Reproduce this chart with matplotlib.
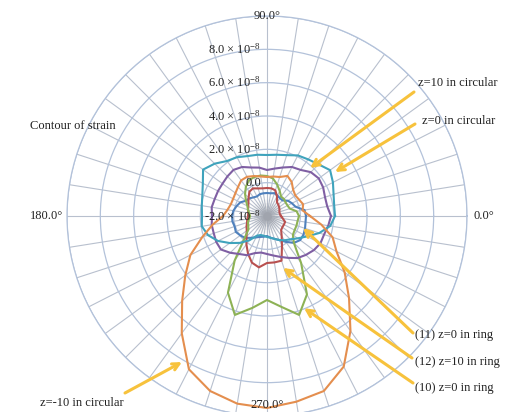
import numpy as np
import matplotlib
matplotlib.use("Agg")
import matplotlib.pyplot as plt
import matplotlib.transforms as mtransforms

plt.rcParams['font.family'] = ['Liberation Serif', 'DejaVu Serif']
plt.rcParams['mathtext.fontset'] = 'custom'
plt.rcParams['mathtext.rm'] = 'Liberation Serif'
plt.rcParams['mathtext.it'] = 'Liberation Serif:italic'

# direction of each spoke, degrees (counter-clockwise from 0.0°)
angles_deg = np.arange(0, 360, 9)

# strain around the section, in units of 1e-8
ring_10_z0 = [-0.08, -0.20, -0.56, -0.62, -0.62, -0.56, -0.56, -0.32, -0.02, 0.28,
              0.40, 0.46, 0.46, 0.40, 0.16, -0.14, -0.44, -0.68, -0.80, -0.92,
              -0.98, -0.92, -0.80, -0.74, -0.62, -0.08, 1.30, 3.16, 4.24, 3.58,
              3.04, 3.52, 4.24, 3.28, 1.48, 0.28, -0.08, -0.14, -0.14, -0.14]
ring_11_z0 = [0.34, 0.28, -0.20, -0.32, -0.44, -0.68, -0.68, -0.62, -0.56, -0.62,
              -0.62, -0.62, -0.62, -0.68, -0.62, -0.50, -0.44, -0.20, -0.08, 0.04,
              0.10, 0.10, 0.04, 0.10, -0.02, -0.14, -0.38, -0.56, -0.68, -0.74,
              -0.80, -0.68, -0.56, -0.38, -0.08, 0.28, 0.46, 0.46, 0.40, 0.34]
ring_12_z10 = [-1.16, -1.22, -1.22, -1.16, -1.10, -1.04, -0.98, -0.68, -0.38, -0.32,
               -0.32, -0.32, -0.26, -0.14, -0.20, -0.44, -0.62, -0.74, -0.80, -0.86,
               -0.86, -0.80, -0.74, -0.62, -0.50, -0.26, 0.10, 0.52, 0.94, 1.12,
               0.82, 0.82, 0.82, -0.02, -0.50, -0.80, -0.86, -0.86, -0.86, -1.04]
circ_z10 = [1.84, 1.66, 1.66, 1.78, 1.84, 1.72, 1.42, 1.30, 1.06, 0.88,
            0.76, 0.94, 1.06, 1.30, 1.42, 1.36, 1.30, 1.30, 1.30, 1.36,
            1.30, 1.36, 1.36, 1.42, 1.42, 1.12, 0.82, 0.64, 0.34, 0.22,
            0.28, 0.40, 0.58, 0.82, 1.12, 1.30, 1.48, 1.60, 1.60, 1.72]
circ_z0 = [2.08, 2.08, 2.20, 2.44, 2.68, 2.38, 2.20, 2.08, 1.84, 1.72,
           1.66, 1.72, 1.78, 1.96, 2.08, 2.44, 2.74, 2.32, 2.08, 1.96,
           1.90, 1.96, 1.72, 1.30, 0.76, 0.28, -0.20, -0.68, -0.80, -0.80,
           -0.74, -0.68, -0.56, -0.38, -0.20, -0.02, 0.28, 0.70, 1.30, 1.84]
circ_zm10 = [0.58, 0.16, 0.28, 0.16, 0.10, 0.22, 0.52, 0.70, 0.46, 0.40,
             0.34, 0.40, 0.52, 0.64, 0.64, 0.46, 0.34, 0.28, 0.28, 0.40,
             0.64, 1.30, 2.08, 3.16, 4.06, 5.20, 6.70, 8.32, 9.04, 9.40,
             9.52, 9.28, 9.04, 8.14, 6.52, 4.96, 3.76, 2.68, 2.14, 1.30]

radial_ticks = [-2, 0, 2, 4, 6, 8, 10]
radial_labels = [r"-2.0 $\times$ 10$^{-8}$", "0.0", r"2.0 $\times$ 10$^{-8}$",
                 r"4.0 $\times$ 10$^{-8}$", r"6.0 $\times$ 10$^{-8}$", r"8.0 $\times$ 10$^{-8}$"]

series = [
    (ring_11_z0, "#4F81BD"),
    (ring_12_z10, "#B8504F"),
    (ring_10_z0, "#8DB255"),
    (circ_z10, "#7F5FA3"),
    (circ_z0, "#3FA3BC"),
    (circ_zm10, "#E48E4E"),
]

txt_col = "#222222"
W, H = 516, 412
fig = plt.figure(figsize=(W / 100, H / 100), dpi=100)
cx, cy, R = 267, 216, 200
ax = fig.add_axes([(cx - R) / W, (H - cy - R) / H, 2 * R / W, 2 * R / H],
                  projection='polar')
ax.set_ylim(-2, 10)

grid_col = "#B3C2DA"
ax.set_xticks(np.deg2rad(angles_deg))
ax.set_xticklabels([])
ax.set_yticks(radial_ticks)
ax.set_yticklabels([])
ax.xaxis.grid(True, color="#B8C0CE", lw=0.8)
ax.yaxis.grid(True, color=grid_col, lw=0.9)
ax.spines['polar'].set_color(grid_col)
ax.spines['polar'].set_linewidth(0.9)
ax.tick_params(length=0)

# soft grey haze where the spokes converge
for s, a in [(600, 0.05), (380, 0.07), (220, 0.09), (110, 0.12), (40, 0.15)]:
    ax.scatter([0], [-2], s=s, color="#808080", alpha=a, lw=0, zorder=2)

theta = np.deg2rad(np.append(angles_deg, angles_deg[0]))
for vals, col in series:
    r = np.append(vals, vals[0])
    ax.plot(theta, r, color=col, lw=1.5, zorder=3)

# radial axis labels along the vertical spoke
left_shift = mtransforms.ScaledTranslation(-6 / 100, 0, fig.dpi_scale_trans)
for v, lab in zip(radial_ticks, radial_labels):
    ax.text(np.pi / 2, v, lab, ha='right', va='center', fontsize=9,
            color=txt_col, transform=ax.transData + left_shift, zorder=4)

# direction labels
ax.text(np.pi / 2, 10, "90.0°", ha='center', va='center', fontsize=9, color=txt_col)
ax.text(3 * np.pi / 2, 9.35, "270.0°", ha='center', va='center', fontsize=9, color=txt_col)
ax.text(np.pi, 10, "180.0°", ha='right', va='center', fontsize=9, color=txt_col,
        transform=ax.transData + mtransforms.ScaledTranslation(-4 / 100, 0, fig.dpi_scale_trans))
ax.text(0, 10, "0.0°", ha='left', va='center', fontsize=9, color=txt_col,
        transform=ax.transData + mtransforms.ScaledTranslation(6 / 100, 0, fig.dpi_scale_trans))

fig.text(30 / W, 1 - 126 / H, "Contour of strain", ha='left', va='center',
         fontsize=9, color=txt_col)

# callouts: (text, text left/centre in px, arrow start in px, arrow tip as (deg, value))
callouts = [
    ("z=10 in circular", (418, 83), (414, 92), (48.1, 1.87)),
    ("z=0 in circular", (422, 121), (415, 124), (32.9, 2.86)),
    ("(11) z=0 in ring", (415, 335), (413, 333), (341.6, 0.28)),
    ("(12) z=10 in ring", (415, 362), (412, 358), (287.1, 1.26)),
    ("(10) z=0 in ring", (415, 388), (413, 383), (291.9, 3.96)),
    ("z=-10 in circular", (40, 403), (125, 393), (239.8, 8.14)),
]
arrow_col = "#F7C23C"
for txt, (tx, ty), (sx, sy), (tdeg, tval) in callouts:
    fig.text(tx / W, 1 - ty / H, txt, ha='left', va='center', fontsize=9, color=txt_col)
    ax.annotate("", xy=(np.deg2rad(tdeg), tval), xycoords='data',
                xytext=(sx, H - sy), textcoords='figure pixels',
                arrowprops=dict(arrowstyle='->', color=arrow_col, lw=2.2,
                                mutation_scale=12, shrinkA=0, shrinkB=0),
                annotation_clip=False, zorder=5)

fig.savefig("out.png", dpi=100)
